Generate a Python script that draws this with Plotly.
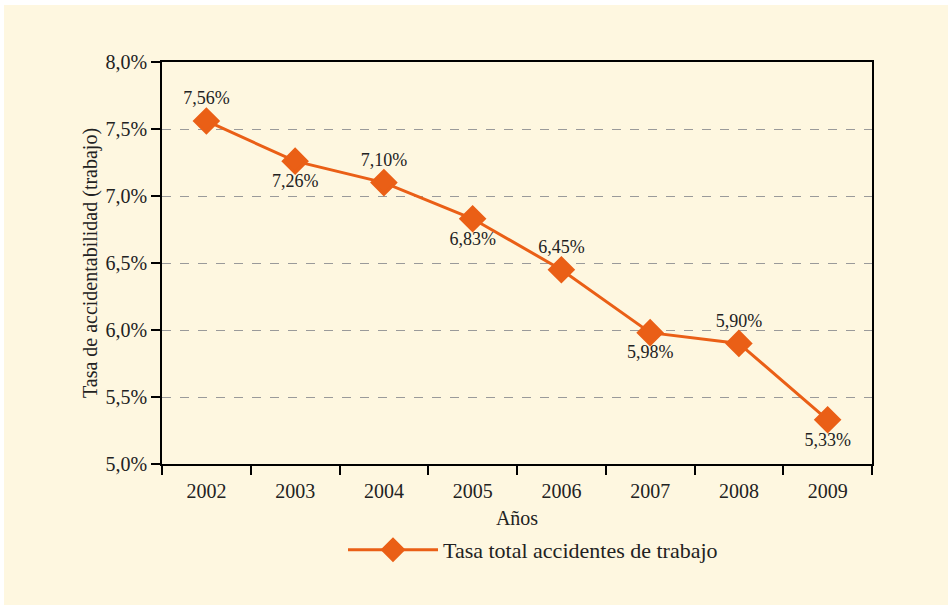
import plotly.graph_objects as go

years = ["2002", "2003", "2004", "2005", "2006", "2007", "2008", "2009"]
rates = [7.56, 7.26, 7.10, 6.83, 6.45, 5.98, 5.90, 5.33]
label_pos = ["top center", "bottom center", "top center", "bottom center",
             "top center", "bottom center", "top center", "bottom center"]
series_name = "Tasa total accidentes de trabajo"
y_ticks = [5.0, 5.5, 6.0, 6.5, 7.0, 7.5, 8.0]
y_ticktext = ["5,0%", "5,5%", "6,0%", "6,5%", "7,0%", "7,5%", "8,0%"]

ORANGE = "#EA5F16"
BG = "#FEF7E0"
FONT = "Liberation Serif, Times New Roman, DejaVu Serif, serif"
TXT = "#222"

OX, OY = 4, 5          # page offset of the figure
W, H = 948 - OX, 605 - OY
L, R, T, B = 162 - OX, 872 - OX, 62 - OY, 464 - OY
pw, ph = R - L, B - T
def px_y(y_ref): return (B - (y_ref - OY)) / ph
def px_x(x_ref): return ((x_ref - OX) - L) / pw

fig = go.Figure()
fig.add_trace(go.Scatter(
    x=years, y=rates, name=series_name,
    mode="lines+markers+text",
    line=dict(color=ORANGE, width=3),
    marker=dict(symbol="diamond", size=18, color=ORANGE,
                line=dict(color=ORANGE, width=3)),
    texttemplate="%{y:.2f}%", textposition=label_pos,
    textfont=dict(family=FONT, size=18, color=TXT),
    cliponaxis=False,
))

fig.update_layout(
    width=W, height=H,
    margin=dict(l=L, r=W - R, t=T, b=H - B, autoexpand=False),
    paper_bgcolor=BG, plot_bgcolor=BG,
    separators=",.",
    font=dict(family=FONT, size=20, color=TXT),
    showlegend=True,
    legend=dict(orientation="h", x=px_x(533), xanchor="center", y=px_y(550), yanchor="middle",
                font=dict(family=FONT, size=22, color=TXT), itemwidth=90,
                bgcolor="rgba(0,0,0,0)"),
    xaxis=dict(
        type="category", range=[-0.5, 7.5],
        showline=True, linecolor="black", linewidth=1.5, mirror=True,
        ticks="outside", tickson="boundaries", ticklen=9, tickcolor="black", tickwidth=1.5,
        ticklabelstandoff=8,
        showgrid=False, tickfont=dict(family=FONT, size=20, color=TXT),
        title=dict(text="Años", font=dict(family=FONT, size=20, color=TXT), standoff=10),
    ),
    yaxis=dict(
        range=[5.0, 8.0], tickvals=y_ticks, ticktext=y_ticktext,
        showline=True, linecolor="black", linewidth=1.5, mirror=True,
        ticks="outside", ticklen=9, tickcolor="black", tickwidth=1.5,
        showgrid=True, gridcolor="#9a9a9a", griddash="dash", gridwidth=1,
        zeroline=False, tickfont=dict(family=FONT, size=20, color=TXT),
        title=dict(text="Tasa de accidentabilidad (trabajo)",
                   font=dict(family=FONT, size=20, color=TXT), standoff=3),
    ),
)

fig.write_html("out.html",
               post_script="document.body.style.margin='%dpx 0 0 %dpx';document.body.style.background='white';" % (OY, OX))
